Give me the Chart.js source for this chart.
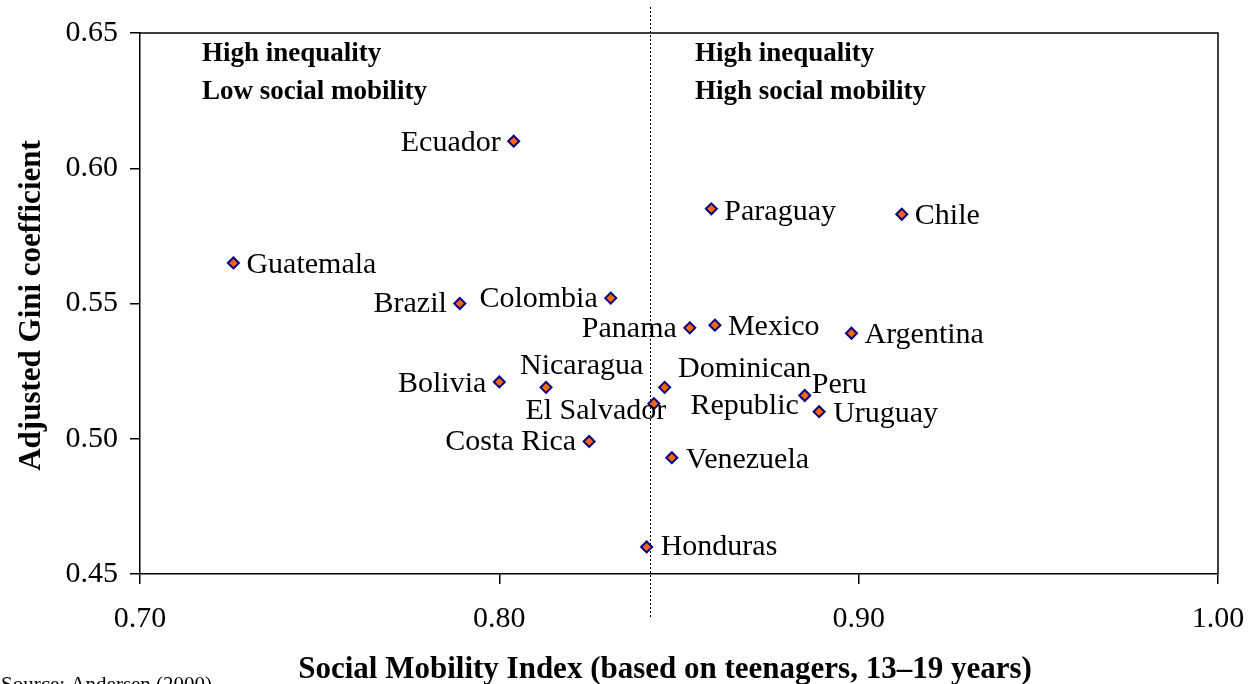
<!DOCTYPE html>
<html>
<head>
<meta charset="utf-8">
<script src="https://cdn.jsdelivr.net/npm/chart.js@4/dist/chart.umd.min.js"></script>
<style>
  html, body { margin: 0; padding: 0; background: #fff; }
  #wrap { width: 1255px; height: 684px; }
</style>
</head>
<body>
<div id="wrap"><canvas id="grafico" width="1255" height="684"></canvas></div>
<script>
// Data
const countries = ["Ecuador", "Paraguay", "Chile", "Guatemala", "Brazil", "Colombia", "Panama", "Mexico",
    "Argentina", "Bolivia", "Nicaragua", "Dominican Republic", "El Salvador", "Peru", "Uruguay",
    "Costa Rica", "Venezuela", "Honduras"];
const mobilityIndex = [0.804, 0.859, 0.912, 0.726, 0.789, 0.831, 0.853, 0.860,
    0.898, 0.800, 0.813, 0.846, 0.843, 0.885, 0.889,
    0.825, 0.848, 0.841];
const giniAdjusted = [0.610, 0.585, 0.583, 0.565, 0.550, 0.552, 0.541, 0.542,
    0.539, 0.521, 0.519, 0.519, 0.513, 0.516, 0.510,
    0.499, 0.493, 0.460];
const xTicks = [0.70, 0.80, 0.90, 1.00];
const yTicks = [0.45, 0.50, 0.55, 0.60, 0.65];
const dividerValue = 0.842;

const serif = '"Liberation Serif", "Times New Roman", serif';
Chart.defaults.font.family = serif;
Chart.defaults.color = "#000";

// where each label sits relative to its marker (pixels)
const labelLayout = {
    "Ecuador": { align: "right", dx: -13, dy: 2 },
    "Paraguay": { align: "left", dx: 13, dy: 3 },
    "Chile": { align: "left", dx: 13, dy: 2 },
    "Guatemala": { align: "left", dx: 13, dy: 2 },
    "Brazil": { align: "right", dx: -13, dy: 1 },
    "Colombia": { align: "right", dx: -13, dy: 1 },
    "Panama": { align: "right", dx: -13, dy: 1 },
    "Mexico": { align: "left", dx: 13, dy: 2 },
    "Argentina": { align: "left", dx: 13, dy: 2 },
    "Bolivia": { align: "right", dx: -13, dy: 2 },
    "Nicaragua": { align: "left", dx: -26, dy: -21 },
    "Dominican Republic": { align: "center", dx: 80, dy: -18, lines: ["Dominican", "Republic"], gap: 37 },
    "El Salvador": { align: "center", dx: -58, dy: 8 },
    "Peru": { align: "left", dx: 7, dy: -10 },
    "Uruguay": { align: "left", dx: 14, dy: 2 },
    "Costa Rica": { align: "right", dx: -13, dy: 1 },
    "Venezuela": { align: "left", dx: 14, dy: 2 },
    "Honduras": { align: "left", dx: 14, dy: 0 }
};

const chartDecor = {
    id: "chartDecor",
    beforeDatasetsDraw(chart) {
        const { ctx, chartArea: a, scales } = chart;
        ctx.save();
        // top and right frame
        ctx.strokeStyle = "#000";
        ctx.lineWidth = 1.5;
        ctx.beginPath();
        ctx.moveTo(a.left, a.top);
        ctx.lineTo(a.right, a.top);
        ctx.lineTo(a.right, a.bottom);
        ctx.stroke();
        // dotted divider
        const xd = Math.round(scales.x.getPixelForValue(dividerValue)) + 0.5;
        ctx.lineWidth = 1;
        ctx.setLineDash([2, 2]);
        ctx.beginPath();
        ctx.moveTo(xd, a.top - 26);
        ctx.lineTo(xd, a.bottom + 43);
        ctx.stroke();
        ctx.restore();
    },
    afterDatasetsDraw(chart) {
        const { ctx, chartArea: a } = chart;
        const meta = chart.getDatasetMeta(0);
        ctx.save();
        ctx.fillStyle = "#000";
        ctx.textBaseline = "middle";
        ctx.font = "30px " + serif;
        meta.data.forEach(function (pt, i) {
            const name = countries[i];
            const lay = labelLayout[name] || { align: "left", dx: 13, dy: 0 };
            ctx.textAlign = lay.align;
            const lines = lay.lines || [name];
            lines.forEach(function (txt, k) {
                ctx.fillText(txt, pt.x + lay.dx, pt.y + lay.dy + k * (lay.gap || 0));
            });
        });

        // quadrant notes
        ctx.font = "bold 27px " + serif;
        ctx.textAlign = "left";
        ctx.fillText("High inequality", a.left + 62, a.top + 21);
        ctx.fillText("Low social mobility", a.left + 62, a.top + 59);
        ctx.fillText("High inequality", a.left + 555, a.top + 21);
        ctx.fillText("High social mobility", a.left + 555, a.top + 59);

        // axis titles
        ctx.font = "bold 31px " + serif;
        ctx.textAlign = "center";
        ctx.fillText("Social Mobility Index (based on teenagers, 13\u201319 years)", 665, 670);
        ctx.save();
        ctx.translate(32, (a.top + a.bottom) / 2 + 2);
        ctx.rotate(-Math.PI / 2);
        ctx.fillText("Adjusted Gini coefficient", 0, 0);
        ctx.restore();

        // source note
        ctx.font = "21px " + serif;
        ctx.textAlign = "left";
        ctx.textBaseline = "alphabetic";
        ctx.fillText("Source: Andersen (2000)", 1, 691);
        ctx.restore();
    }
};

document.addEventListener("DOMContentLoaded", function () {
    const ctx = document.getElementById("grafico");

    new Chart(ctx, {
        type: "scatter",
        data: {
            datasets: [{
                label: "Countries",
                data: countries.map(function (c, i) { return { x: mobilityIndex[i], y: giniAdjusted[i] }; }),
                pointStyle: "rectRot",
                pointRadius: 5.5,
                pointHoverRadius: 5.5,
                backgroundColor: "#ff6600",
                borderColor: "#000080",
                borderWidth: 2
            }]
        },
        options: {
            responsive: false,
            animation: false,
            events: [],
            layout: { padding: { top: 33, right: 37, bottom: 0, left: 0 } },
            scales: {
                x: {
                    type: "linear",
                    min: 0.70,
                    max: 1.00,
                    afterFit: function (s) {
                        s.height = 110;
                        s.paddingLeft = 0;
                        s.paddingRight = 0;
                    },
                    afterBuildTicks: function (s) { s.ticks = xTicks.map(function (v) { return { value: v }; }); },
                    ticks: {
                        font: { size: 30 },
                        padding: 17,
                        callback: function (v) { return Number(v).toFixed(2); }
                    },
                    grid: { drawOnChartArea: false, drawTicks: true, tickLength: 10, color: "#000", lineWidth: 1.5 },
                    border: { display: true, color: "#000", width: 1.5 }
                },
                y: {
                    type: "linear",
                    min: 0.45,
                    max: 0.65,
                    afterFit: function (s) {
                        s.width = 140;
                        s.paddingTop = 0;
                        s.paddingBottom = 0;
                    },
                    afterBuildTicks: function (s) { s.ticks = yTicks.map(function (v) { return { value: v }; }); },
                    ticks: {
                        font: { size: 30 },
                        padding: 12,
                        callback: function (v) { return Number(v).toFixed(2); }
                    },
                    grid: { drawOnChartArea: false, drawTicks: true, tickLength: 10, color: "#000", lineWidth: 1.5 },
                    border: { display: true, color: "#000", width: 1.5 }
                }
            },
            plugins: {
                legend: { display: false },
                title: { display: false },
                tooltip: { enabled: false }
            }
        },
        plugins: [chartDecor]
    });
});
</script>
</body>
</html>
